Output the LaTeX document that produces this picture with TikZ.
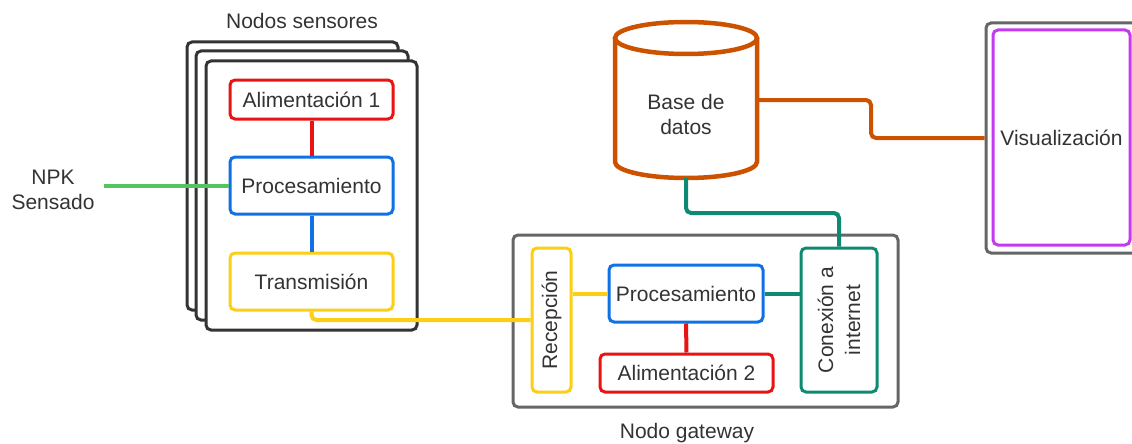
\documentclass[tikz,border=0pt]{standalone}
\usepackage{fontspec}
\setmainfont{Liberation Sans}
\usetikzlibrary{calc}

\definecolor{txtc}{HTML}{333333}
\definecolor{cardc}{HTML}{333333}
\definecolor{grayc}{HTML}{666666}
\definecolor{redc}{HTML}{E81313}
\definecolor{bluec}{HTML}{1071E5}
\definecolor{yelc}{HTML}{FCCE14}
\definecolor{greenc}{HTML}{54C45E}
\definecolor{tealc}{HTML}{0E8A72}
\definecolor{orangec}{HTML}{CC5200}
\definecolor{purplec}{HTML}{C43AF2}

\newcommand\figfont{\fontsize{21pt}{25pt}\selectfont}

\begin{document}
\begin{tikzpicture}[x=1pt,y=-1pt,
  every node/.style={text=txtc, font=\figfont, inner sep=0pt},
  card/.style={draw=cardc, line width=3pt, rounded corners=5pt, fill=white},
  frame/.style={draw=grayc, line width=3pt, rounded corners=5pt, fill=white},
  box/.style={draw, line width=3pt, rounded corners=5pt, fill=white, align=center},
  conn/.style={line width=4pt, rounded corners=5pt},
  cyl/.style={draw=orangec, line width=4.5pt, fill=white}]

\useasboundingbox (0,0) rectangle (1132,444);
\clip (0,0) rectangle (1132,444);

% ---------- sensor nodes (stacked cards) ----------
\node (title1) at (302,21) {Nodos sensores};
\node[card, minimum width=211, minimum height=268] (cardA) at (292.5,176) {};
\node[card, minimum width=212, minimum height=269] (cardB) at (302,185.5) {};
\node[card, minimum width=211, minimum height=269] (cardC) at (311.5,195.5) {};

\node[box, draw=redc,  minimum width=163, minimum height=39] (alim1) at (311.5,99.5) {Alimentación 1};
\node[box, draw=bluec, minimum width=163, minimum height=57] (proc1) at (311.5,185.5) {Procesamiento};
\node[box, draw=yelc,  minimum width=163, minimum height=57] (trans) at (311.5,281.5) {Transmisión};

\draw[conn, redc]  (alim1.south) -- (proc1.north);
\draw[conn, bluec] (proc1.south) -- (trans.north);

% NPK input
\node[align=center] (npk) at (53,190) {NPK\\Sensado};
\coordinate (npkend) at (104,185.5);
\draw[conn, greenc] (npkend) -- (proc1.west);

% ---------- gateway ----------
\node[frame, minimum width=385, minimum height=172] (gw) at (705.5,321) {};
\node (title2) at (687,433) {Nodo gateway};

\node[box, draw=yelc, minimum width=39, minimum height=144] (rec) at (551.5,320) {};
\node[rotate=90] (rectxt) at (rec.center) {Recepción};
\node[box, draw=bluec, minimum width=154, minimum height=57] (proc2) at (686,293.5) {Procesamiento};
\node[box, draw=redc, minimum width=173, minimum height=38] (alim2) at (686.5,373) {Alimentación 2};
\node[box, draw=tealc, minimum width=76, minimum height=144] (con) at (839,320) {};
\node[rotate=90, align=center, font=\fontsize{21pt}{27pt}\selectfont] (contxt) at (con.center) {Conexión a\\internet};

\draw[conn, yelc]  (trans.south) |- (rec.west);
\draw[conn, yelc]  (rec.east |- proc2.west) -- (proc2.west);
\draw[conn, tealc] (proc2.east) -- (con.west |- proc2.east);
\draw[conn, redc]  (proc2.south) -- (alim2.north);

% ---------- database ----------
\draw[cyl] (615,38) -- (615,162)
  .. controls (615,170.84) and (646.8,178) .. (686,178)
  .. controls (725.2,178) and (757,170.84) .. (757,162) -- (757,38);
\draw[cyl] (686,38) ellipse [x radius=71, y radius=16];
\node[minimum width=142, minimum height=156] (db) at (686,100) {};
\node[align=center] (dbtxt) at (686,114) {Base de\\datos};

% ---------- visualisation ----------
\node[frame, minimum width=152, minimum height=230] (viz) at (1062,138) {};
\node[box, draw=purplec, minimum width=137, minimum height=215] (vizin) at (1061.5,137.5) {Visualización};

% ---------- links ----------
\coordinate (tk) at (760,213);
\draw[conn, tealc] (con.north) |- (tk) -| (db.south);
\coordinate (kink) at (871,120);
\draw[conn, orangec] (db.east) -| (kink) |- (viz.west);

\end{tikzpicture}
\end{document}
